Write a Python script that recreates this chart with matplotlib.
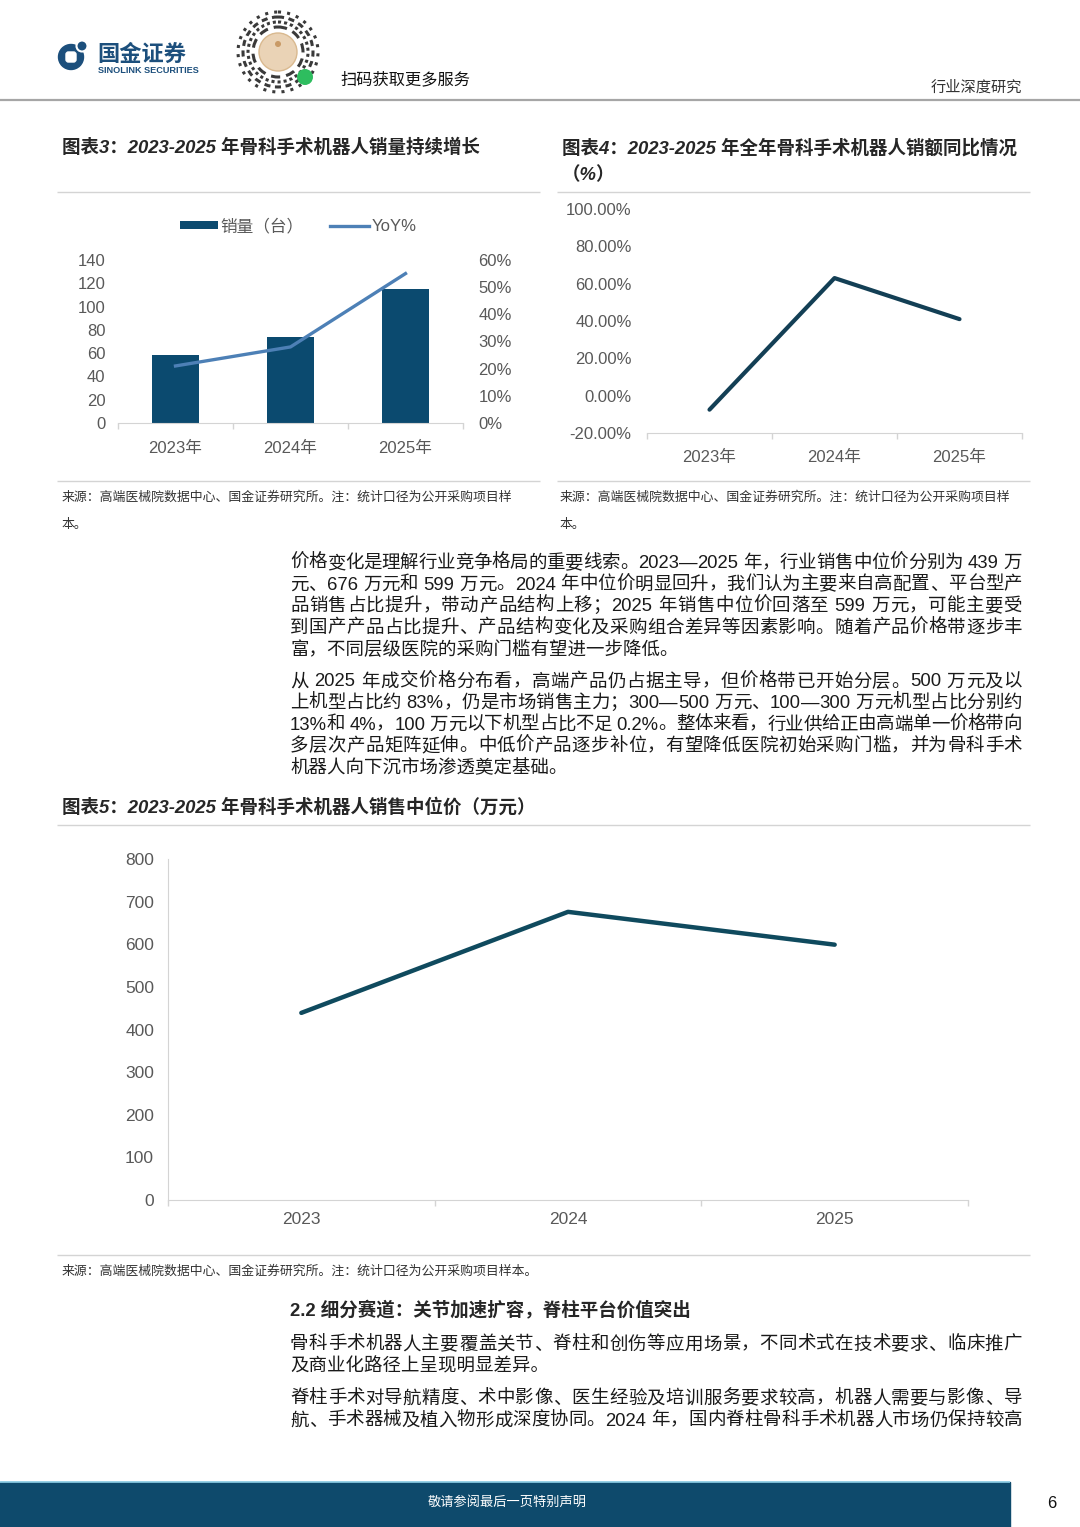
import re
import matplotlib
matplotlib.use("Agg")
import matplotlib.pyplot as plt
from matplotlib import font_manager
from matplotlib.patches import Rectangle, Circle, FancyBboxPatch, Patch
from matplotlib.lines import Line2D
from matplotlib.font_manager import FontProperties
from matplotlib.ticker import FuncFormatter

FAM = ["Liberation Sans", "Noto Sans CJK SC", "DejaVu Sans"]
plt.rcParams["font.family"] = FAM
_names = {f.name for f in font_manager.fontManager.ttflist}
NARROW = "Liberation Sans Narrow" if "Liberation Sans Narrow" in _names else "Liberation Sans"

# ---- data ----
years_cn = ["2023年", "2024年", "2025年"]
years = ["2023", "2024", "2025"]
sales_units = [58, 74, 115]          # 销量（台）
sales_yoy = [0.21, 0.28, 0.55]       # YoY%
amount_yoy = [-0.075, 0.63, 0.41]    # 销额同比
median_price = [439, 676, 599]       # 销售中位价（万元）

W, H = 1080, 1527
fig = plt.figure(figsize=(W / 100, H / 100), dpi=100)
bg = fig.add_axes([0, 0, 1, 1])
bg.set_xlim(0, W)
bg.set_ylim(H, 0)
bg.axis("off")

TICK = "#595959"
GRID = "#d4d4d4"
TXT = "#1a1a1a"


def panel(l, t, r, b):
    ax = fig.add_axes([l / W, 1 - b / H, (r - l) / W, (b - t) / H])
    ax.patch.set_alpha(0)
    return ax


def hline(x0, x1, y, c=GRID, lw=1.0):
    bg.plot([x0, x1], [y, y], color=c, lw=lw, solid_capstyle="butt")


def style_cat(ax, labels, pad, size=12, family=None):
    ax.set_xlim(-0.5, 2.5)
    ax.set_xticks(range(len(labels)))
    ax.set_xticklabels(labels)
    ax.set_xticks([-0.5, 0.5, 1.5, 2.5], minor=True)
    ax.tick_params(axis="x", which="major", length=0, pad=pad, labelsize=size, labelcolor=TICK)
    ax.tick_params(axis="x", which="minor", length=4, color=GRID, width=1)
    for s in ["top", "right", "left"]:
        ax.spines[s].set_visible(False)
    ax.spines["bottom"].set_color(GRID)
    if family:
        for lab in ax.get_xticklabels():
            lab.set_family(family)


# ---- header ----
hline(0, W, 100, c="#a6a6a6", lw=1.6)
bg.add_patch(Circle((71, 57), 12.5, color="#1c4f7c"))
bg.add_patch(FancyBboxPatch((66, 52), 10, 10, boxstyle="round,pad=0,rounding_size=2.5", color="white"))
bg.add_patch(Circle((82, 46), 5.5, facecolor="#1c4f7c", edgecolor="white", lw=1.5))
bg.text(97, 55, "国金证券", fontsize=16, fontweight="bold", color="#1c4f7c", va="center", ha="left")
bg.text(98, 70.5, "SINOLINK SECURITIES", fontsize=6.6, fontweight="bold", color="#1c4f7c", va="center", ha="left")
# QR code badge
bg.add_patch(Circle((278, 52), 42, facecolor="white", edgecolor="none"))
for r, dash in [(40, (1, 2)), (35, (2, 1.5)), (30, (1, 1)), (25, (3, 2))]:
    bg.add_patch(Circle((278, 52), r, fill=False, edgecolor="#3a3a3a", lw=2.2, linestyle=(0, dash)))
bg.add_patch(Circle((278, 52), 19, facecolor="#ead3b6", edgecolor="#d9b98f", lw=1))
bg.add_patch(Circle((278, 44), 3, facecolor="#c99a66"))
bg.add_patch(Circle((305, 77), 8, facecolor="#2ebd5f"))
bg.text(340, 79, "扫码获取更多服务", fontsize=11.7, color="#111111", va="center", ha="left")
bg.text(1022, 88, "行业深度研究", fontsize=11, color="#333333", va="center", ha="right")

# ---- chart titles / frames ----
TITLE = FontProperties(family=FAM, size=13.3, weight="bold", style="italic")
SRC = FontProperties(family=FAM, size=9.3)
bg.text(62, 148, "图表3：2023-2025 年骨科手术机器人销量持续增长", fontproperties=TITLE, color="#262626", va="center")
bg.text(562, 148, "图表4：2023-2025 年全年骨科手术机器人销额同比情况", fontproperties=TITLE, color="#262626", va="center")
bg.text(562, 175, "（%）", fontproperties=TITLE, color="#262626", va="center")
for x0, x1 in [(57, 540), (557, 1030)]:
    hline(x0, x1, 192)
    hline(x0, x1, 481)
src_a = "来源：高端医械院数据中心、国金证券研究所。注：统计口径为公开采购项目样"
for x0 in [62, 560]:
    bg.text(x0, 497, src_a, fontproperties=SRC, color="#333333", va="center")
    bg.text(x0, 525, "本。", fontproperties=SRC, color="#333333", va="center")

# ---- chart 3: bars + YoY line ----
xs = list(range(len(years_cn)))
ax3 = panel(118, 260, 463, 423)
ax3.bar(xs, sales_units, width=0.41, color="#0b4a6f", zorder=2)
ax3.set_ylim(0, 140)
ax3.set_yticks(range(0, 141, 20))
ax3.tick_params(axis="y", length=0, pad=9, labelsize=12, labelcolor=TICK)
style_cat(ax3, years_cn, pad=13)
ax3r = ax3.twinx()
ax3r.patch.set_alpha(0)
ax3r.plot(xs, sales_yoy, color="#4d80b6", lw=2.4, zorder=3)
ax3r.set_ylim(0, 0.6)
ax3r.set_yticks([0, 0.1, 0.2, 0.3, 0.4, 0.5, 0.6])
ax3r.yaxis.set_major_formatter(FuncFormatter(lambda v, p: f"{v * 100:.0f}%"))
ax3r.tick_params(axis="y", length=0, pad=11, labelsize=12, labelcolor=TICK)
for s in ax3r.spines.values():
    s.set_visible(False)
handles = [Patch(facecolor="#0b4a6f", edgecolor="none"), Line2D([], [], color="#4d80b6", lw=2.4)]
bg.legend(handles, ["销量（台）", "YoY%"], loc="center", bbox_to_anchor=(298, 226),
          bbox_transform=bg.transData, ncol=2, frameon=False, fontsize=12,
          handlelength=2.3, handleheight=0.45, handletextpad=0.15, columnspacing=1.6,
          labelcolor=TICK)

# ---- chart 4: sales amount YoY ----
ax4 = panel(647, 209, 1022, 433)
ax4.plot(xs, amount_yoy, color="#133f55", lw=3.0, solid_capstyle="round")
ax4.set_ylim(-0.2, 1.0)
ax4.set_yticks([-0.2, 0, 0.2, 0.4, 0.6, 0.8, 1.0])
ax4.yaxis.set_major_formatter(FuncFormatter(lambda v, p: f"{v * 100:.2f}%"))
ax4.tick_params(axis="y", length=0, pad=11, labelsize=12, labelcolor=TICK)
style_cat(ax4, years_cn, pad=12)

# ---- body text ----
renderer = fig.canvas.get_renderer()
BODY = FontProperties(family=FAM, size=13.3)


def text_line(y, s, justify=True, fp=BODY, x0=290, x1=1022):
    if not justify:
        bg.text(x0, y, s, fontproperties=fp, color=TXT, va="center", ha="left")
        return
    toks = re.findall(r"[A-Za-z0-9.%]+|.", s)
    ws = [renderer.get_text_width_height_descent(t, fp, ismath=False)[0] for t in toks]
    gap = (x1 - x0 - sum(ws)) / (len(toks) - 1)
    x = x0
    for t, w in zip(toks, ws):
        if t.strip():
            bg.text(x, y, t, fontproperties=fp, color=TXT, va="center", ha="left")
        x += w + gap


para1 = [
    "价格变化是理解行业竞争格局的重要线索。2023—2025 年，行业销售中位价分别为 439 万",
    "元、676 万元和 599 万元。2024 年中位价明显回升，我们认为主要来自高配置、平台型产",
    "品销售占比提升，带动产品结构上移；2025 年销售中位价回落至 599 万元，可能主要受",
    "到国产产品占比提升、产品结构变化及采购组合差异等因素影响。随着产品价格带逐步丰",
    "富，不同层级医院的采购门槛有望进一步降低。",
]
para2 = [
    "从 2025 年成交价格分布看，高端产品仍占据主导，但价格带已开始分层。500 万元及以",
    "上机型占比约 83%，仍是市场销售主力；300—500 万元、100—300 万元机型占比分别约",
    "13%和 4%，100 万元以下机型占比不足 0.2%。整体来看，行业供给正由高端单一价格带向",
    "多层次产品矩阵延伸。中低价产品逐步补位，有望降低医院初始采购门槛，并为骨科手术",
    "机器人向下沉市场渗透奠定基础。",
]
para3 = [
    "骨科手术机器人主要覆盖关节、脊柱和创伤等应用场景，不同术式在技术要求、临床推广",
    "及商业化路径上呈现明显差异。",
]
para4 = [
    "脊柱手术对导航精度、术中影像、医生经验及培训服务要求较高，机器人需要与影像、导",
    "航、手术器械及植入物形成深度协同。2024 年，国内脊柱骨科手术机器人市场仍保持较高",
]
for lines, ys, last_full in [
    (para1, [563.5, 585, 606.5, 628, 649.5], False),
    (para2, [682, 703.5, 725, 746.5, 768], False),
    (para3, [1345, 1367], False),
    (para4, [1399, 1421], True),
]:
    for i, (s, y) in enumerate(zip(lines, ys)):
        text_line(y, s, justify=(i < len(lines) - 1) or last_full)

bg.text(290, 1311, "2.2 细分赛道：关节加速扩容，脊柱平台价值突出",
        fontproperties=FontProperties(family=FAM, size=13.3, weight="bold"), color="#262626", va="center")

# ---- chart 5: median price ----
bg.text(62, 807, "图表5：2023-2025 年骨科手术机器人销售中位价（万元）", fontproperties=TITLE, color="#262626", va="center")
hline(57, 1030, 825)
hline(57, 1030, 1255)
bg.text(62, 1271, "来源：高端医械院数据中心、国金证券研究所。注：统计口径为公开采购项目样本。",
        fontproperties=SRC, color="#333333", va="center")
ax5 = panel(168, 859, 968, 1200)
ax5.plot(xs, median_price, color="#0f4a5e", lw=3.2, solid_capstyle="round")
ax5.set_ylim(0, 800)
ax5.set_yticks(range(0, 801, 100))
ax5.tick_params(axis="y", length=0, pad=10, labelsize=12.5, labelcolor=TICK)
for lab in ax5.get_yticklabels():
    lab.set_family(NARROW)
style_cat(ax5, years, pad=9, size=12.5, family=NARROW)
ax5.spines["left"].set_visible(True)
ax5.spines["left"].set_color(GRID)

# ---- footer ----
bg.add_patch(Rectangle((0, 1482), 1010, 45, color="#0e4a6c"))
hline(0, 1010, 1482, c="#8fd0e8", lw=1.2)
bg.text(507, 1503, "敬请参阅最后一页特别声明", fontsize=9.5, color="white", va="center", ha="center")
bg.text(1052, 1503, "6", fontsize=12, color="#111111", va="center", ha="center")

fig.savefig("out.png", dpi=100)
